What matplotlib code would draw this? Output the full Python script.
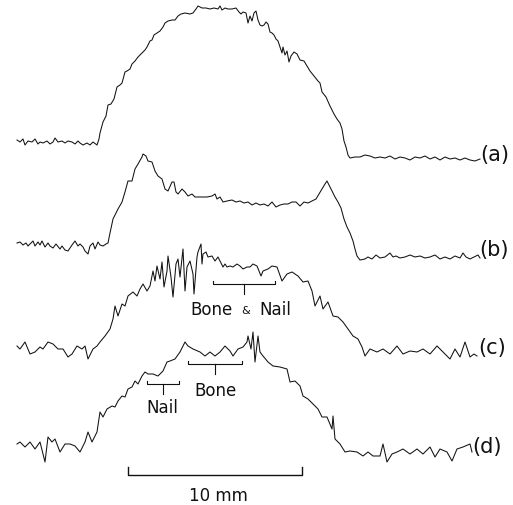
import numpy as np
import matplotlib
matplotlib.use('Agg')
import matplotlib.pyplot as plt

# Traces: (position, deflection) pairs, screen units, y grows downward
trace_a = [
    (17, 141), (20, 143), (23, 140), (25, 146), (28, 142), (32, 143), (35, 140), (38, 145),
    (40, 143), (43, 144), (47, 142), (50, 145), (53, 143), (55, 139), (58, 143), (62, 142),
    (65, 144), (68, 142), (72, 143), (75, 145), (78, 142), (80, 144), (83, 146), (87, 144),
    (90, 146), (93, 143), (97, 146), (99, 140), (100, 134), (103, 123), (106, 117), (108, 106),
    (111, 105), (114, 100), (117, 88), (120, 86), (122, 84), (125, 73), (127, 72), (130, 70),
    (132, 65), (135, 62), (138, 58), (140, 56), (143, 53), (145, 51), (147, 48), (150, 42),
    (152, 41), (154, 36), (157, 34), (160, 32), (163, 28), (165, 24), (168, 22), (172, 21),
    (175, 21), (178, 17), (181, 15), (185, 14), (190, 15), (193, 14), (196, 10), (198, 7),
    (202, 9), (206, 9), (210, 10), (214, 9), (218, 10), (220, 7), (222, 11), (225, 9),
    (228, 10), (232, 10), (236, 9), (239, 13), (241, 15), (243, 13), (246, 14), (248, 24),
    (250, 17), (252, 22), (254, 14), (256, 12), (258, 21), (260, 26), (262, 27), (264, 26),
    (266, 23), (268, 25), (270, 33), (272, 34), (274, 36), (276, 40), (278, 42), (280, 48),
    (282, 54), (283, 48), (285, 56), (287, 52), (289, 63), (291, 57), (294, 53), (297, 55),
    (300, 61), (304, 62), (307, 67), (310, 72), (314, 77), (318, 82), (320, 84), (322, 93),
    (326, 98), (330, 107), (334, 115), (337, 120), (340, 124), (342, 130), (344, 142),
    (346, 148), (348, 156), (350, 159), (355, 158), (360, 158), (365, 156), (370, 157),
    (375, 159), (380, 158), (385, 159), (390, 157), (395, 160), (400, 158), (405, 159),
    (410, 161), (415, 158), (420, 159), (425, 157), (430, 160), (435, 158), (440, 161),
    (445, 158), (450, 160), (455, 159), (460, 161), (465, 159), (470, 161), (475, 162), (480, 160),
]

trace_b = [
    (17, 244), (20, 243), (23, 246), (26, 244), (28, 247), (30, 245), (33, 242), (35, 247),
    (38, 243), (40, 246), (42, 242), (45, 248), (48, 244), (50, 247), (53, 249), (56, 245),
    (60, 250), (62, 247), (65, 251), (68, 252), (72, 246), (75, 242), (78, 247), (80, 245),
    (83, 248), (85, 252), (88, 255), (90, 247), (93, 244), (95, 250), (98, 243), (100, 246),
    (103, 247), (106, 245), (108, 244), (110, 234), (113, 220), (118, 210), (122, 203),
    (125, 193), (128, 182), (132, 182), (135, 170), (138, 165), (142, 158), (143, 155),
    (146, 157), (148, 162), (152, 163), (155, 172), (158, 177), (162, 180), (165, 190),
    (168, 192), (172, 183), (174, 183), (176, 193), (178, 195), (182, 190), (185, 193),
    (188, 197), (192, 195), (195, 198), (200, 198), (207, 198), (212, 197), (215, 195),
    (217, 200), (220, 198), (223, 203), (227, 202), (232, 201), (236, 203), (240, 202),
    (244, 204), (248, 203), (252, 206), (256, 204), (260, 206), (264, 205), (268, 207),
    (272, 203), (276, 208), (280, 206), (284, 205), (288, 205), (292, 203), (296, 203),
    (300, 207), (304, 203), (308, 204), (312, 202), (316, 200), (319, 195), (322, 190),
    (325, 185), (327, 182), (329, 186), (332, 192), (335, 198), (338, 203), (341, 209),
    (344, 220), (347, 228), (350, 234), (353, 242), (355, 250), (357, 257), (360, 261),
    (365, 260), (368, 258), (372, 260), (376, 256), (380, 259), (385, 258), (390, 254),
    (393, 258), (396, 257), (400, 259), (405, 258), (410, 256), (415, 258), (420, 257),
    (425, 259), (430, 258), (435, 256), (440, 260), (445, 258), (450, 260), (455, 257),
    (460, 259), (463, 254), (466, 258), (470, 260), (474, 258), (478, 256), (480, 259),
]

trace_c = [
    (17, 347), (20, 350), (25, 343), (30, 355), (35, 353), (40, 348), (43, 350), (48, 343),
    (53, 345), (58, 350), (63, 350), (68, 358), (72, 355), (77, 347), (82, 350), (85, 347),
    (88, 360), (93, 350), (97, 347), (100, 343), (105, 337), (110, 330), (113, 320),
    (115, 307), (118, 317), (122, 305), (125, 307), (128, 297), (133, 293), (137, 297),
    (140, 290), (143, 285), (147, 292), (150, 287), (153, 272), (155, 282), (157, 267),
    (160, 280), (162, 263), (164, 288), (167, 272), (168, 257), (171, 278), (173, 298),
    (176, 265), (178, 260), (180, 278), (183, 250), (185, 292), (187, 268), (190, 262),
    (193, 275), (194, 295), (197, 258), (198, 253), (201, 245), (202, 265), (203, 255),
    (206, 253), (208, 258), (212, 257), (215, 262), (218, 258), (220, 262), (223, 268),
    (225, 265), (227, 268), (230, 267), (233, 268), (237, 265), (240, 267), (243, 270),
    (247, 268), (250, 268), (253, 265), (257, 267), (259, 272), (261, 277), (263, 272),
    (268, 270), (272, 267), (277, 268), (282, 282), (287, 275), (292, 273), (298, 277),
    (303, 283), (308, 282), (312, 292), (315, 307), (320, 297), (323, 310), (328, 303),
    (333, 317), (338, 318), (343, 323), (348, 330), (353, 337), (358, 340), (362, 348),
    (365, 357), (370, 350), (377, 353), (383, 350), (390, 355), (397, 347), (403, 355),
    (410, 352), (417, 353), (423, 350), (430, 355), (437, 347), (443, 353), (450, 360),
    (455, 350), (460, 358), (465, 343), (470, 358), (474, 355), (477, 357),
]

trace_d = [
    (17, 445), (20, 443), (25, 448), (30, 443), (35, 450), (40, 443), (45, 463), (48, 438),
    (52, 443), (55, 440), (60, 453), (65, 445), (70, 445), (75, 447), (80, 453), (85, 443),
    (88, 433), (92, 443), (97, 433), (100, 413), (103, 418), (107, 410), (112, 407),
    (115, 408), (118, 402), (122, 397), (125, 398), (128, 390), (132, 388), (135, 382),
    (138, 385), (142, 377), (145, 373), (148, 375), (153, 375), (158, 377), (163, 372),
    (167, 363), (170, 362), (175, 360), (180, 353), (185, 343), (188, 347), (193, 350),
    (200, 353), (205, 357), (210, 353), (215, 357), (220, 353), (225, 347), (230, 352),
    (233, 357), (238, 350), (243, 348), (247, 343), (248, 337), (251, 350), (253, 333),
    (255, 363), (258, 337), (260, 353), (263, 357), (268, 363), (273, 367), (280, 368),
    (287, 370), (290, 383), (295, 382), (300, 387), (303, 397), (308, 400), (313, 405),
    (318, 410), (322, 418), (327, 418), (332, 430), (333, 417), (335, 440), (340, 445),
    (345, 453), (350, 452), (357, 453), (363, 457), (368, 453), (373, 457), (380, 457),
    (383, 445), (387, 463), (392, 455), (397, 453), (403, 450), (410, 455), (417, 450),
    (423, 455), (430, 448), (435, 458), (440, 450), (447, 453), (452, 462), (457, 450),
    (463, 448), (470, 445), (472, 453),
]

trace_labels = ['(a)', '(b)', '(c)', '(d)']
label_pos = [(495, 155), (494, 250), (492, 348), (487, 447)]

# Brackets: (left, right, y, text, text x, text y)
brackets = [
    (213, 275, 285, 'Bone & Nail', 245, 310),
    (188, 242, 365, 'Bone', 215, 391),
    (147, 179, 385, 'Nail', 162, 408),
]
scale_bar = (128, 302, 476)
scale_text = '10 mm'

fig = plt.figure(figsize=(5.13, 5.06), dpi=100)
ax = fig.add_axes([0, 0, 1, 1])
ax.set_xlim(0, 513)
ax.set_ylim(506, 0)
ax.axis('off')

for tr in [trace_a, trace_b, trace_c, trace_d]:
    arr = np.array(tr)
    ax.plot(arr[:, 0], arr[:, 1], color='#111111', lw=0.75, solid_joinstyle='round')

for lab, (lx, ly) in zip(trace_labels, label_pos):
    ax.text(lx, ly, lab, fontsize=15, ha='center', va='center', color='#111111')

for x0, x1, y, txt, tx, ty in brackets:
    xm = (x0 + x1) / 2
    ax.plot([x0, x0, x1, x1], [y - 3, y, y, y - 3], color='#111111', lw=0.8)
    ax.plot([xm, xm], [y, y + 10], color='#111111', lw=0.8)
    if '&' in txt:
        ax.text(tx - 33, ty, 'Bone', fontsize=12, ha='center', va='center', color='#111111')
        ax.text(tx + 1, ty + 1, '&', fontsize=8, ha='center', va='center', color='#111111')
        ax.text(tx + 30, ty, 'Nail', fontsize=12, ha='center', va='center', color='#111111')
    else:
        ax.text(tx, ty, txt, fontsize=12, ha='center', va='center', color='#111111')

sx0, sx1, sy = scale_bar
ax.plot([sx0, sx0, sx1, sx1], [sy - 8, sy, sy, sy - 8], color='#111111', lw=1.0)
ax.text((sx0 + sx1) / 2 + 3, 496, scale_text, fontsize=12, ha='center', va='center',
        color='#111111')

fig.savefig('out.png', dpi=100)
